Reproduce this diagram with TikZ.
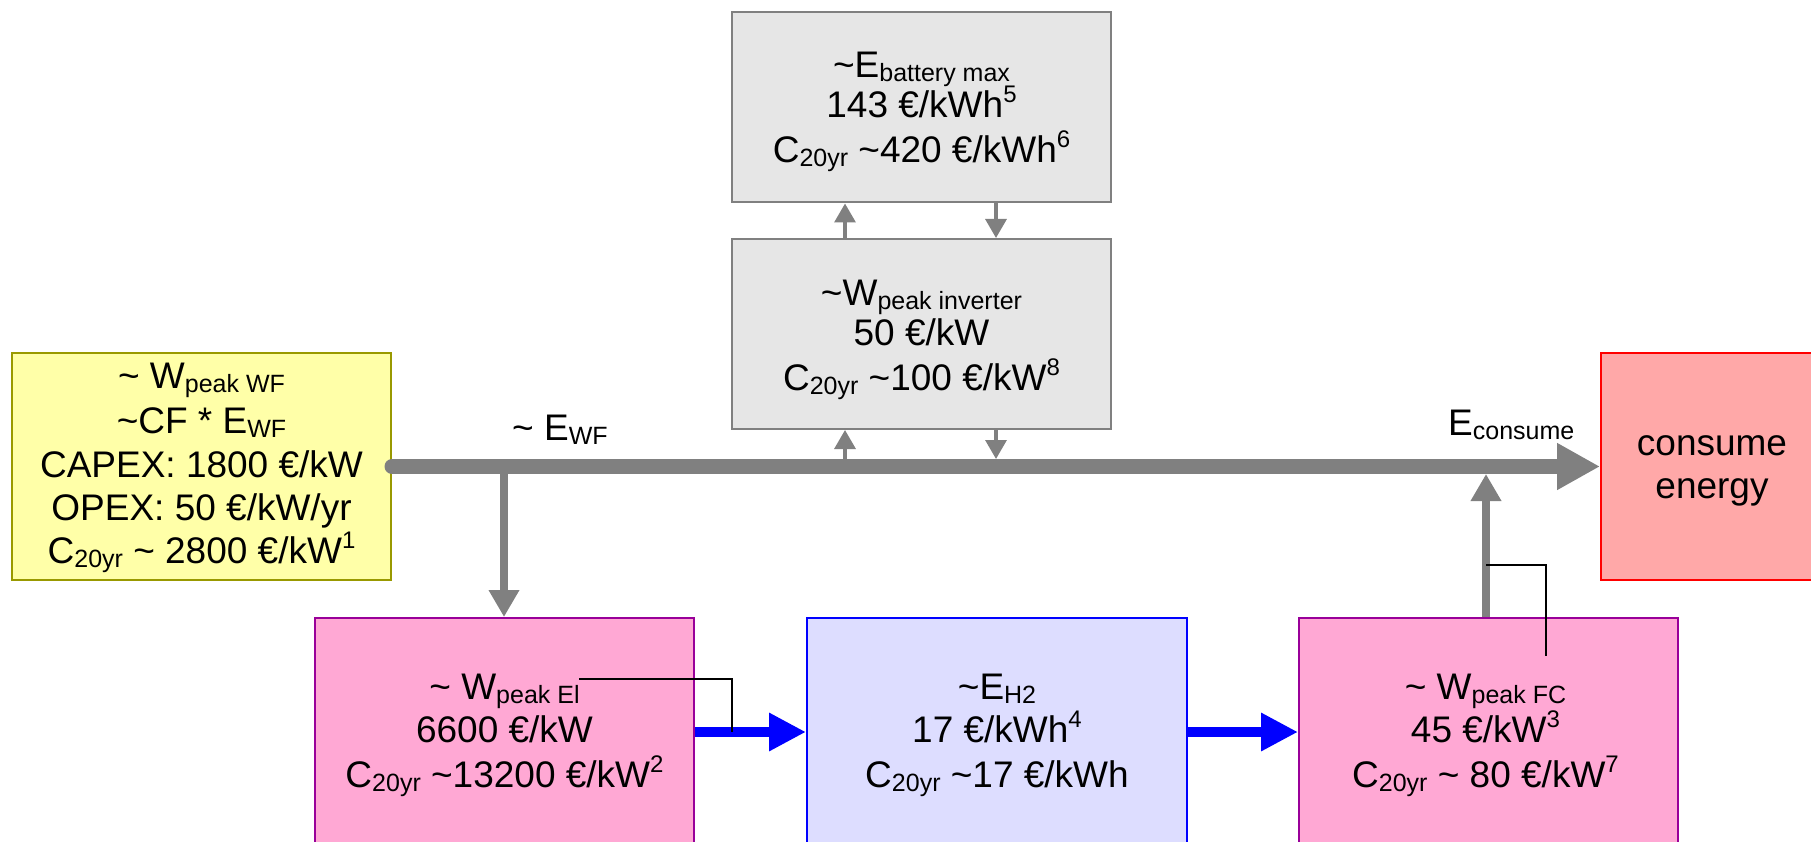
\documentclass[tikz,border=0pt]{standalone}
\usepackage{fontspec}
\setmainfont{Liberation Sans}
\usetikzlibrary{arrows.meta}
\definecolor{gry}{HTML}{808080}
\definecolor{yfill}{HTML}{FFFFA8}
\definecolor{ydraw}{HTML}{999900}
\definecolor{pfill}{HTML}{FFA8D4}
\definecolor{pdraw}{HTML}{990099}
\definecolor{bfill}{HTML}{DDDDFF}
\definecolor{gfill}{HTML}{E6E6E6}
\definecolor{rfill}{HTML}{FFA8A8}
\newcommand\tld{\textasciitilde}
\newcommand\mysub[1]{\raisebox{-4pt}{\fontsize{25}{25}\selectfont #1}}
\newcommand\mysup[1]{\raisebox{15pt}{\fontsize{24}{24}\selectfont #1}}
\tikzset{
  box/.style={rectangle, line width=2pt, inner sep=0pt},
  ybox/.style={box, fill=yfill, draw=ydraw},
  gbox/.style={box, fill=gfill, draw=gry},
  pbox/.style={box, fill=pfill, draw=pdraw},
  bbox/.style={box, fill=bfill, draw=blue},
  rbox/.style={box, fill=rfill, draw=red},
  txt/.style={anchor=base, inner sep=0pt, font=\fontsize{37}{44}\selectfont},
  lbl/.style={anchor=base west, inner sep=0pt, font=\fontsize{37}{44}\selectfont},
  mainline/.style={draw=gry, line width=15pt, line cap=round, -{Triangle[length=43pt,width=44pt]}},
  midarrow/.style={draw=gry, line width=8pt, -{Triangle[length=27pt,width=29pt]}},
  smallarrow/.style={draw=gry, line width=3.3pt, -{Triangle[length=19pt,width=21pt]}},
  bluearrow/.style={draw=blue, line width=10pt, -{Triangle[length=37pt,width=36pt]}},
  callout/.style={draw=black, line width=1.8pt},
}
\begin{document}
\begin{tikzpicture}[x=1pt,y=-1pt]
\useasboundingbox (0,0) rectangle (1811,842);
\clip (0,0) rectangle (1811,842);
% boxes
\node[ybox, minimum width=379pt, minimum height=227pt] (wf) at (201.5,466.5) {};
\node[gbox, minimum width=379pt, minimum height=190pt] (bat) at (921.5,107.5) {};
\node[gbox, minimum width=379pt, minimum height=190pt] (inv) at (921.5,334) {};
\node[rbox, minimum width=228pt, minimum height=227pt] (cons) at (1715,466.5) {};
\node[pbox, minimum width=379pt, minimum height=228pt] (el) at (504.5,732) {};
\node[bbox, minimum width=380pt, minimum height=228pt] (h2) at (997,732) {};
\node[pbox, minimum width=379pt, minimum height=228pt] (fc) at (1488.5,732) {};
% junction coordinates
\coordinate (j1) at (504,466.5);
\coordinate (j2) at (1486,474);
\coordinate (iu) at (845,459);
\coordinate (id) at (996,459);
% connectors
\draw[mainline] (wf.east) -- (cons.west);
\draw[midarrow] (j1) -- (j1 |- el.north);
\draw[midarrow] (j2 |- fc.north) -- (j2);
\draw[smallarrow] (iu) -- (iu |- inv.south);
\draw[smallarrow] (id |- inv.south) -- (id);
\draw[smallarrow] (iu |- inv.north) -- (iu |- bat.south);
\draw[smallarrow] (id |- bat.south) -- (id |- inv.north);
\draw[bluearrow] (el.east) -- (h2.west);
\draw[bluearrow] (h2.east) -- (fc.west);
% callout lines
\coordinate (c1) at (579,679);
\coordinate (c2) at (732,679);
\coordinate (c3) at (732,732);
\draw[callout] (c1) -- (c2) -- (c3);
\coordinate (c4) at (1486,565);
\coordinate (c5) at (1546,565);
\coordinate (c6) at (1546,656);
\draw[callout] (c4) -- (c5) -- (c6);
% texts: wind farm
\node[txt] (wf1) at (201.5,388) {\tld{} W\mysub{peak WF}};
\node[txt] (wf2) at (201.5,433) {\tld CF * E\mysub{WF}};
\node[txt] (wf3) at (201.5,477) {CAPEX: 1800 €/kW};
\node[txt] (wf4) at (201.5,520) {OPEX: 50 €/kW/yr};
\node[txt] (wf5) at (201.5,563) {C\mysub{20yr} \tld{} 2800 €/kW\mysup{1}};
% battery
\node[txt] (bat1) at (921.5,78) {\tld E\mysub{battery max}};
\node[txt] (bat2) at (921.5,118) {143 €/kWh\mysup{5}};
\node[txt] (bat3) at (921.5,163) {C\mysub{20yr} \tld 420 €/kWh\mysup{6}};
% inverter
\node[txt] (inv1) at (921.5,305) {\tld W\mysub{peak inverter}};
\node[txt] (inv2) at (921.5,345) {50 €/kW};
\node[txt] (inv3) at (921.5,390) {C\mysub{20yr} \tld 100 €/kW\mysup{8}};
% electrolyser
\node[txt] (el1) at (504.5,699) {\tld{} W\mysub{peak El}};
\node[txt] (el2) at (504.5,742) {6600 €/kW};
\node[txt] (el3) at (504.5,787) {C\mysub{20yr} \tld 13200 €/kW\mysup{2}};
% hydrogen
\node[txt] (h21) at (997,699) {\tld E\mysub{H2}};
\node[txt] (h22) at (997,742) {17 €/kWh\mysup{4}};
\node[txt] (h23) at (997,787) {C\mysub{20yr} \tld 17 €/kWh};
% fuel cell
\node[txt] (fc1) at (1485.5,699) {\tld{} W\mysub{peak FC}};
\node[txt] (fc2) at (1485.5,742) {45 €/kW\mysup{3}};
\node[txt] (fc3) at (1485.5,787) {C\mysub{20yr} \tld{} 80 €/kW\mysup{7}};
% consume
\node[txt] (cn1) at (1712,455) {consume};
\node[txt] (cn2) at (1712,498) {energy};
% line labels
\node[lbl] (ewf) at (512,440) {\tld{} E\mysub{WF}};
\node[lbl] (econ) at (1448,435) {E\mysub{consume}};
\end{tikzpicture}
\end{document}
